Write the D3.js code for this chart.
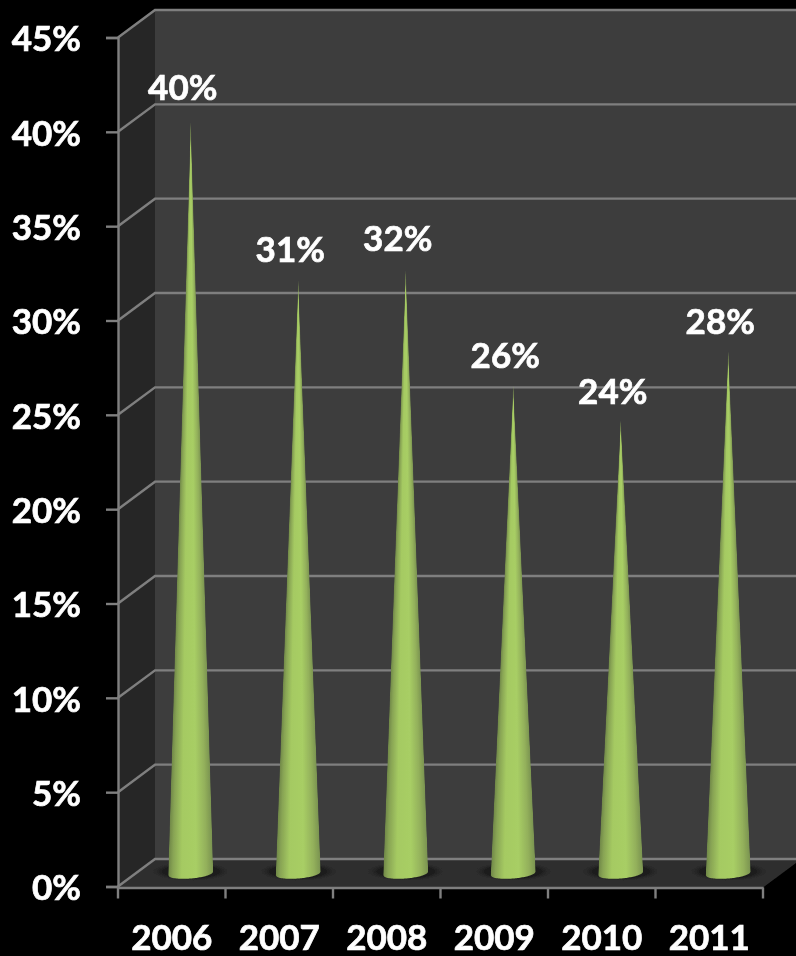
<!DOCTYPE html>
<html><head><meta charset="utf-8">
<script src="https://cdn.jsdelivr.net/npm/d3@7/dist/d3.min.js"></script>
<style>html,body{margin:0;padding:0;background:#000;overflow:hidden}svg{display:block}
text{font-family:Lato,"Open Sans",sans-serif;font-weight:700;fill:#fff;stroke:#fff;stroke-width:.7px}</style>
</head><body><svg id="c" width="796" height="956"></svg>
<script>
const years = ["2006","2007","2008","2009","2010","2011"];
const values = [39.8, 31.4, 31.95, 25.85, 24, 27.65];
const valueLabels = ["40%","31%","32%","26%","24%","28%"];
const yTicks = [0,5,10,15,20,25,30,35,40,45];

const svg = d3.select("#c");
const W = 796;
const depthX = 37, depthY = 27.5;
const x = d3.scaleBand().domain(years).range([118, 763]);
const y = d3.scaleLinear().domain([0,45]).range([886.5, 37.5]);
const coneBaseY = 873.5, coneDX = 19;
const coneY = d3.scaleLinear().domain([0,45]).range([coneBaseY, coneBaseY-(886.5-37.5)]);
const gapScale = d3.scaleLinear().domain([24,40]).range([29,34.8]);
const line = d3.line();
const FS = 35;

const defs = svg.append("defs");
defs.append("filter").attr("id","soft").attr("x","-5%").attr("y","-5%").attr("width","110%").attr("height","110%")
  .append("feGaussianBlur").attr("stdDeviation",0.55);
const sh = defs.append("radialGradient").attr("id","shadow");
sh.append("stop").attr("offset","0%").attr("stop-color","#161616");
sh.append("stop").attr("offset","65%").attr("stop-color","#1b1b1b");
sh.append("stop").attr("offset","100%").attr("stop-color","#2f2f2f").attr("stop-opacity",0);
const cg = defs.append("linearGradient").attr("id","cone");
[[0,"#6f8748"],[.1,"#88a454"],[.3,"#a5ca62"],[.62,"#a8ce65"],[.85,"#93b05b"],[1,"#7a9350"]]
  .forEach(([o,c])=>cg.append("stop").attr("offset",o).attr("stop-color",c));

const g = svg.append("g").attr("filter","url(#soft)");
const y0 = y(0), yT = y(45), xL = x.range()[0], xR = x.range()[1];

// walls and floor
g.append("path").attr("d", line([[xL,y0],[xL,yT],[xL+depthX,yT-depthY],[xL+depthX,y0-depthY]]) + "Z").attr("fill","#282828");
g.append("rect").attr("x",xL+depthX).attr("y",yT-depthY).attr("width",W-xL-depthX+5).attr("height",y0-yT).attr("fill","#3e3e3e");
g.append("path").attr("d", line([[xL,y0+1],[xR,y0+1],[xR+depthX,y0-depthY+1],[xR+depthX,y0-depthY],[xL+depthX,y0-depthY]]) + "Z").attr("fill","#2f2f2f");

// gridlines: side wall + back wall
const gridCol = "#7f7f7f";
yTicks.forEach(t => {
  const yy = y(t);
  g.append("path").attr("d", line([[xL,yy],[xL+depthX,yy-depthY],[W+5,yy-depthY]]))
   .attr("fill","none").attr("stroke",gridCol).attr("stroke-width",2.4);
});

// axes
const axL = d3.axisLeft(y).tickValues(yTicks).tickFormat(d=>d+"%").tickSize(12).tickPadding(25);
const axLG = g.append("g").attr("transform",`translate(${xL},0)`).call(axL);
const xTickScale = d3.scaleLinear().domain([0,years.length]).range([xL,xR]);
const axB = d3.axisBottom(x).tickSize(0).tickPadding(37.5);
const axBG = g.append("g").attr("transform",`translate(0,${y0+1})`).call(axB);
axBG.append("g").selectAll("line").data(d3.range(years.length+1)).join("line")
  .attr("x1",d=>xTickScale(d)).attr("x2",d=>xTickScale(d)).attr("y1",0).attr("y2",11)
  .attr("stroke",gridCol).attr("stroke-width",2.4);
[axLG,axBG].forEach(a=>{a.selectAll(".domain").attr("stroke",gridCol).attr("stroke-width",2.4);
  a.selectAll(".tick line").attr("stroke",gridCol).attr("stroke-width",2.4);
  a.selectAll("text").attr("font-size",FS);});
axLG.selectAll(".tick text").attr("dy","0.38em");

// shadows
const cx = d => x(d)+x.bandwidth()/2+coneDX;
g.append("g").selectAll("ellipse").data(years).join("ellipse")
  .attr("cx",d=>cx(d)).attr("cy",coneBaseY-2).attr("rx",42).attr("ry",10).attr("fill","url(#shadow)");

// cones: one-pixel rows, each with the shared horizontal gradient, clipped to the outline
const rx = 22.5, ry = 5, tilt = 1.8;
years.forEach((yr,i)=>{
  const c = cx(yr), tipY = coneY(values[i]);
  const pt = u => [c+rx*u, coneBaseY+ry*Math.sqrt(1-u*u)-tilt*u];
  const outline = [[c,tipY], ...d3.range(1,-1.0001,-0.05).map(u=>pt(Math.max(-1,u)))];
  defs.append("clipPath").attr("id","clip"+i).append("path").attr("d",line(outline)+"Z");
  const halfW = d3.scaleLinear().domain([tipY,coneBaseY]).range([0,rx]).clamp(true);
  const rows = d3.range(Math.floor(tipY), Math.ceil(coneBaseY+ry+tilt));
  g.append("g").attr("clip-path",`url(#clip${i})`).selectAll("rect").data(rows).join("rect")
    .attr("x",r=>c-Math.max(.5,halfW(r+.5))).attr("width",r=>2*Math.max(.5,halfW(r+.5)))
    .attr("y",r=>r).attr("height",1.02).attr("fill","url(#cone)");
  g.append("text").attr("x",c-8).attr("y",tipY-gapScale(values[i])).attr("dy","0.35em")
    .attr("text-anchor","middle").attr("font-size",FS).text(valueLabels[i]);
});
</script></body></html>
